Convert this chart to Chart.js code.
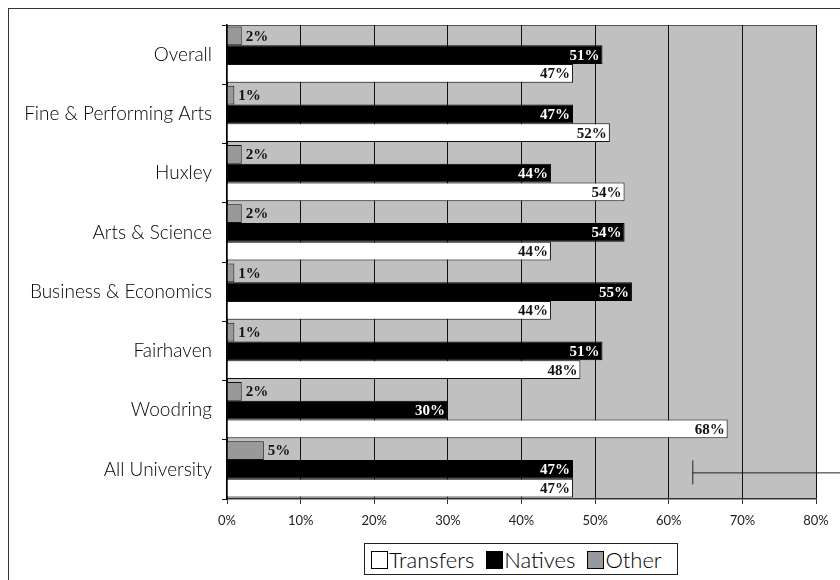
<!DOCTYPE html>
<html>
<head>
<meta charset="utf-8">
<script src="https://cdn.jsdelivr.net/npm/chart.js@4"></script>
<style>
  body { margin:0; width:840px; height:580px; overflow:hidden; background:#fff; position:relative; }
  #rahmen { position:absolute; left:8px; top:8px; width:850px; height:600px; border:1.5px solid #333; }
  #box { position:absolute; left:0; top:0; width:840px; height:580px; }
  #legende { position:absolute; left:364px; top:543px; width:314px; height:32px; border:1px solid #222; box-sizing:border-box;
    display:flex; align-items:center; justify-content:flex-start; gap:12px; padding-left:6px;
    font-family:Lato, sans-serif; font-weight:300; font-size:22px; color:#000; background:#fff; }
  #legende span.q { display:inline-block; width:15px; height:16px; border:1px solid #000; margin-right:1px; vertical-align:-1px; }
</style>
</head>
<body>
<div id="rahmen"></div>
<div id="box"><canvas id="grafico" width="840" height="580"></canvas></div>
<div id="legende"></div>
<script>
const categorias = ["Overall","Fine & Performing Arts","Huxley","Arts & Science","Business & Economics","Fairhaven","Woodring","All University"];
const other = [2,1,2,2,1,1,2,5];
const natives = [51,47,44,54,55,51,30,47];
const transfers = [47,52,54,44,44,48,68,47];
const ticksX = [0,10,20,30,40,50,60,70,80];

const fundo = {
  id:"fundo",
  beforeDraw(chart){
    const a = chart.chartArea, ctx = chart.ctx;
    ctx.save();
    ctx.fillStyle = "#c0c0c0";
    ctx.fillRect(a.left, a.top, a.right-a.left, a.bottom-a.top);
    ctx.strokeStyle = "#555";
    ctx.lineWidth = 1;
    ctx.beginPath();
    ctx.moveTo(a.left, a.top+0.5);
    ctx.lineTo(a.right+0.5, a.top+0.5);
    ctx.lineTo(a.right+0.5, a.bottom);
    ctx.stroke();
    ctx.restore();
  },
  afterDatasetsDraw(chart){
    const ctx = chart.ctx;
    ctx.save();
    ctx.font = "bold 15px 'Liberation Serif', serif";
    ctx.textBaseline = "middle";
    chart.data.datasets.forEach((ds,i)=>{
      chart.getDatasetMeta(i).data.forEach((bar,j)=>{
        const txt = ds.data[j]+"%";
        if(i===0){
          ctx.fillStyle = "#111";
          ctx.textAlign = "left";
          ctx.fillText(txt, bar.x+4, bar.y+1);
        } else {
          ctx.fillStyle = i===1 ? "#fff" : "#111";
          ctx.textAlign = "right";
          ctx.fillText(txt, bar.x-3, bar.y+1);
        }
      });
    });
    // linha solta no All University
    const x = chart.scales.x.getPixelForValue(63.2);
    const y = chart.scales.y.getPixelForValue(7)+3;
    ctx.strokeStyle = "#222";
    ctx.lineWidth = 1;
    ctx.beginPath();
    ctx.moveTo(x+0.5, y-12); ctx.lineTo(x+0.5, y+12);
    ctx.moveTo(x, y+0.5); ctx.lineTo(chart.width, y+0.5);
    ctx.stroke();
    ctx.restore();
  }
};

const grafico = new Chart(document.getElementById("grafico"), {
  type:"bar",
  data:{
    labels:categorias,
    datasets:[
      {label:"Other", data:other, backgroundColor:"#999999", borderColor:"#111", borderWidth:1},
      {label:"Natives", data:natives, backgroundColor:"#000000", borderColor:"#000", borderWidth:1},
      {label:"Transfers", data:transfers, backgroundColor:"#ffffff", borderColor:"#111", borderWidth:1}
    ]
  },
  options:{
    indexAxis:"y",
    responsive:false,
    animation:false,
    categoryPercentage:0.95,
    barPercentage:1,
    layout:{padding:{left:0, top:25, right:24, bottom:41}},
    plugins:{legend:{display:false}, tooltip:{enabled:false}},
    scales:{
      x:{
        min:0, max:80,
        afterBuildTicks(s){ s.ticks = ticksX.map(v=>({value:v})); },
        afterFit(s){ s.height = 40; },
        grid:{color:"#111", lineWidth:1, tickLength:5, tickColor:"#333"},
        border:{color:"#333", width:1.5},
        ticks:{padding:9, color:"#222", font:{family:"Lato", size:13}, callback:v=>v+"%"}
      },
      y:{
        afterFit(s){ s.width = 227; },
        grid:{drawOnChartArea:false, tickLength:5, tickColor:"#111"},
        border:{color:"#000", width:1.5},
        ticks:{padding:10, color:"#000", font:{family:"Lato", size:19, weight:300}}
      }
    }
  },
  plugins:[fundo]
});

// legenda em HTML, na ordem do original
const legenda = document.getElementById("legende");
[2,1,0].forEach(i=>{
  const ds = grafico.data.datasets[i];
  const item = document.createElement("span");
  item.innerHTML = `<span class="q" style="background:${ds.backgroundColor}"></span>${ds.label}`;
  legenda.appendChild(item);
});
</script>
</body>
</html>
